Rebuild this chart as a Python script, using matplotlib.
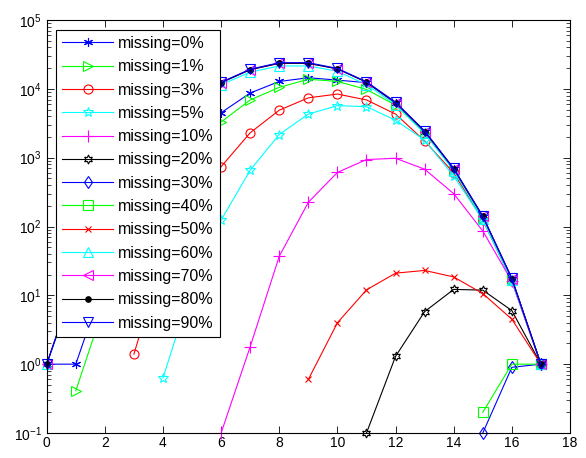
import numpy as np
import matplotlib
matplotlib.use("Agg")
import matplotlib.pyplot as plt

plt.rcParams['font.family'] = ['Liberation Sans', 'DejaVu Sans']
plt.rcParams['mathtext.fontset'] = 'custom'
plt.rcParams['mathtext.rm'] = 'Liberation Sans'

nan = np.nan

# Data
x = list(range(18))
m0 = [1, 1, 17, 145, 575, 1800, 4500, 8700, 12800, 14500, 13400, 12300, 6200, 2400, 680, 138, 17, 1]
m1 = [nan, 0.41, 7.6, 80, 400, 1260, 3300, 6900, 10500, 13800, 12800, 9800, 5800, 2300, 660, 135, 17, 1]
m3 = [nan, nan, nan, 1.4, 36, 200, 740, 2300, 4900, 7400, 8400, 6900, 4300, 1750, 600, 125, 16, 1]
m5 = [nan, nan, nan, nan, 0.63, 13.6, 124, 660, 2170, 4300, 5700, 5500, 3500, 1800, 540, 125, 16, 1]
m10 = [nan, nan, nan, nan, nan, nan, 0.1, 1.8, 37, 225, 610, 940, 980, 680, 300, 86, 16, 1]
m20 = [nan] * 11 + [0.1, 1.3, 5.8, 12.2, 11.9, 6.0, 1]
m30 = [nan] * 15 + [0.1, 0.9, 1]
m40 = [nan] * 15 + [0.2, 1.0, 1]
m50 = [nan] * 9 + [0.6, 4.0, 12, 21, 23, 18.5, 10.6, 4.5, 1]
m60 = [1, 15, 125, 630, 2300, 5800, 11500, 17500, 21500, 21500, 18000, 11500, 5900, 2250, 650, 130, 16.5, 1]
m70 = [1, 17, 140, 700, 2500, 6300, 12300, 19000, 23500, 23500, 19500, 12500, 6300, 2400, 690, 140, 17.5, 1]
m80 = [1, 17, 140, 700, 2500, 6300, 12300, 19000, 23500, 23500, 19500, 12500, 6300, 2400, 690, 140, 17.5, 1]
m90 = [1, 17, 142, 710, 2550, 6400, 12500, 19300, 24000, 24000, 19800, 12700, 6400, 2450, 700, 142, 17.8, 1]

labels = ['missing=0%', 'missing=1%', 'missing=3%', 'missing=5%', 'missing=10%',
          'missing=20%', 'missing=30%', 'missing=40%', 'missing=50%', 'missing=60%',
          'missing=70%', 'missing=80%', 'missing=90%']
series = [m0, m1, m3, m5, m10, m20, m30, m40, m50, m60, m70, m80, m90]
colors = ['#0000ff', '#00ff00', '#ff0000', '#00ffff', '#ff00ff', 'k',
          '#0000ff', '#00ff00', '#ff0000', '#00ffff', '#ff00ff', 'k', '#0000ff']
markers = [(6, 2, 0), '>', 'o', '*', '+', (6, 1, 0), 'd', 's', 'x', '^', '<', '.', 'v']
msizes = [6.5, 7, 6.5, 7.5, 9, 6.5, 6.5, 6.5, 4.5, 7, 7, 8, 7]

fig = plt.figure(figsize=(5.86, 4.58), dpi=100)
ax = fig.add_axes([0.0797, 0.0546, 0.893, 0.9017])

for ys, lab, c, mk, ms in zip(series, labels, colors, markers, msizes):
    filled = mk == '.'
    ax.plot(x, ys, '-', color=c, marker=mk, markersize=ms, linewidth=0.8,
            markerfacecolor=c if filled else 'none', markeredgecolor=c,
            markeredgewidth=0.8, label=lab, clip_on=False)

ax.set_yscale('log')
ax.set_xlim(0, 18)
ax.set_ylim(1e-1, 1e5)
ax.set_xticks(range(0, 19, 2))
ax.tick_params(which='both', direction='in', top=True, right=True, labelsize=10)
ax.tick_params(axis='x', pad=2)
ax.tick_params(which='major', length=5, width=0.6)
ax.tick_params(which='minor', length=3, width=0.5)
for s in ax.spines.values():
    s.set_linewidth(0.8)

leg = ax.legend(loc='upper left', bbox_to_anchor=(0.017, 0.977), fontsize=11.5,
                frameon=True, fancybox=False, edgecolor='k', framealpha=1,
                handlelength=3.2, handletextpad=0.3, labelspacing=0.52,
                borderpad=0.4, borderaxespad=0)
leg.get_frame().set_linewidth(0.8)

plt.savefig("out.png", dpi=100)
